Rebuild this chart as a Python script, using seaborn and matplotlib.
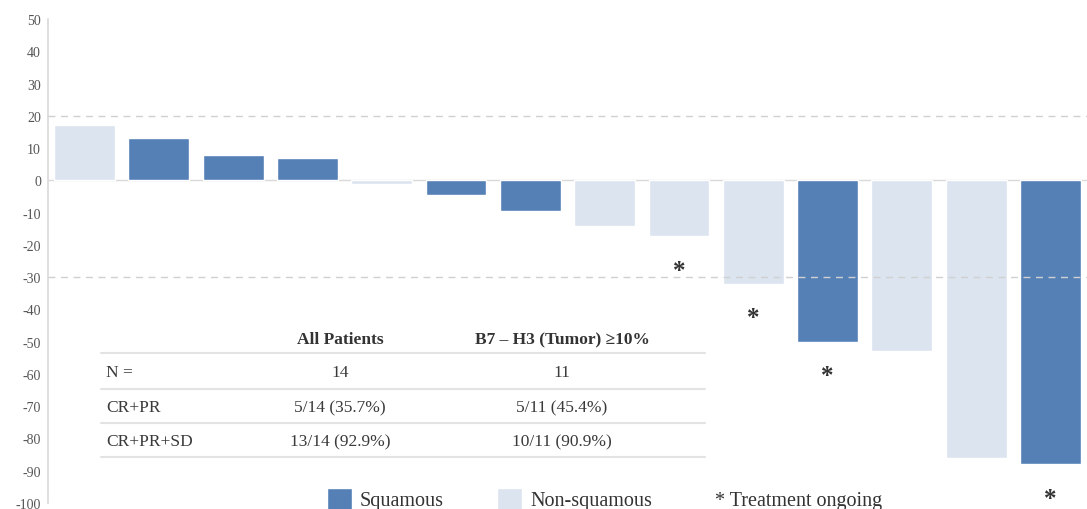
import matplotlib
matplotlib.use("Agg")
import matplotlib.pyplot as plt
from matplotlib.patches import Patch
from matplotlib.lines import Line2D
import seaborn as sns
import pandas as pd

# Best percent change in tumour size per patient
patients = [f"P{i}" for i in range(1, 15)]
change = [17, 13, 8, 7, -1, -4.5, -9.5, -14, -17.3, -32, -50, -53, -86, -88]
histology = ["Non-squamous", "Squamous", "Squamous", "Squamous", "Non-squamous",
             "Squamous", "Squamous", "Non-squamous", "Non-squamous", "Non-squamous",
             "Squamous", "Non-squamous", "Non-squamous", "Squamous"]
ongoing = [False, False, False, False, False, False, False, False, True, True,
           True, False, False, True]

# Response summary table
table_cols = ["All Patients", "B7 \u2013 H3 (Tumor) \u226510%"]
table_rows = ["N =", "CR+PR", "CR+PR+SD"]
table_vals = [["14", "11"],
              ["5/14 (35.7%)", "5/11 (45.4%)"],
              ["13/14 (92.9%)", "10/11 (90.9%)"]]

ref_lines = [20, -30]
yticks = list(range(-100, 51, 10))

SQ = "#5580b6"
NSQ = "#dce4f0"
palette = {"Squamous": SQ, "Non-squamous": NSQ}

sns.set_theme(style="white")
plt.rcParams["font.family"] = ["Liberation Serif", "DejaVu Serif"]

W, H = 1087, 510
fig = plt.figure(figsize=(W / 100, H / 100), dpi=100)
ax = fig.add_axes([48 / W, 6 / H, 1 - 48 / W, 484 / H])

df = pd.DataFrame({"patient": patients, "change": change, "histology": histology})
sns.barplot(data=df, x="patient", y="change", hue="histology", palette=palette,
            dodge=False, width=0.82, legend=False, ax=ax, order=patients,
            saturation=1)

for y in ref_lines:
    ax.axhline(y, color="#d0d0d0", lw=1, ls=(0, (5, 4)), zorder=3)
ax.axhline(0, color="#d9d9d9", lw=1, zorder=0.5)

for i, (v, on) in enumerate(zip(change, ongoing)):
    if on:
        ax.text(i, v - 10.5, "*", ha="center", va="center", fontsize=18,
                fontweight="bold", color="#333333")

ax.set_xlim(-0.49, len(patients) - 0.51)
ax.set_ylim(-100, 50)
ax.set_yticks(yticks)
ax.set_yticklabels([str(t) for t in yticks], fontsize=10, color="#555555")
ax.set_xticks([])
ax.set_xlabel("")
ax.set_ylabel("")
for s in ["top", "right", "bottom"]:
    ax.spines[s].set_visible(False)
ax.spines["left"].set_color("#d9d9d9")
ax.spines["left"].set_linewidth(1.2)
ax.tick_params(axis="y", length=3, color="#d9d9d9", width=1, pad=2)

# Summary table
def fx(px):
    return px / W

def fy(py):
    return 1 - py / H

col_x = [340, 562]
for cx, name in zip(col_x, table_cols):
    fig.text(fx(cx), fy(340), name, ha="center", va="center", fontsize=12.5,
             fontweight="bold", color="#333333")
row_y = [373, 408, 442]
for ry, rname, vals in zip(row_y, table_rows, table_vals):
    fig.text(fx(106), fy(ry), rname, ha="left", va="center", fontsize=12.5,
             color="#3a3a3a")
    for cx, v in zip(col_x, vals):
        fig.text(fx(cx), fy(ry), v, ha="center", va="center", fontsize=12.5,
                 color="#3a3a3a")
for ly in [354, 390, 424, 458]:
    fig.add_artist(Line2D([fx(101), fx(705)], [fy(ly), fy(ly)],
                          color="#e3e3e3", lw=1.5))

# Legend
handles = [Patch(facecolor=SQ, label="Squamous"),
           Patch(facecolor=NSQ, label="Non-squamous")]
fig.legend(handles=handles, loc="center left", bbox_to_anchor=(fx(327), fy(500)),
           ncol=2, frameon=False, fontsize=14.5, handlelength=1.24,
           handleheight=1.3, handletextpad=0.4, columnspacing=2.64,
           borderpad=0, borderaxespad=0, labelcolor="#333333")
fig.text(fx(715), fy(506), "* Treatment ongoing", ha="left", va="baseline",
         fontsize=14.5, color="#333333")

fig.savefig("out.png", dpi=100)
